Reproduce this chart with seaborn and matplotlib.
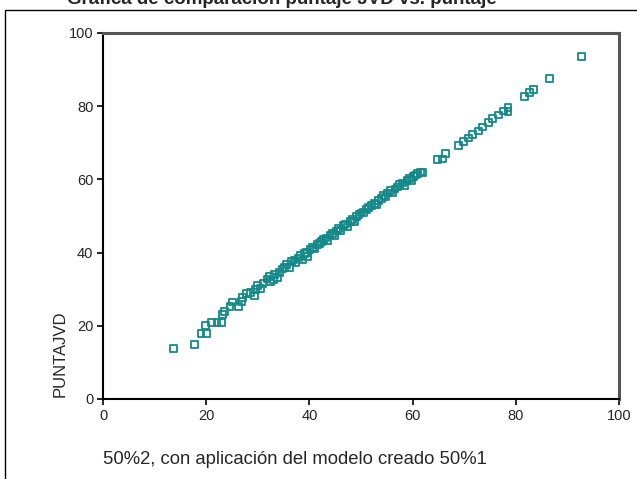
import matplotlib
matplotlib.use("Agg")
import matplotlib.pyplot as plt
import matplotlib.patches as mpatches
import seaborn as sns
import pandas as pd

# Puntaje calculado con el modelo (50%1) aplicado a la muestra 50%2
modelo_50_2 = [
    13.6, 17.7, 19.0, 20.0, 19.8, 21.1, 22.1, 22.9, 23.1, 23.6,
    24.6, 25.1, 26.2, 26.9, 27.0, 27.8, 28.6, 29.3, 29.5, 30.0,
    30.5, 31.0, 31.8, 32.2, 32.5, 33.0, 33.3, 33.8, 34.2, 34.8,
    35.2, 35.6, 36.1, 36.5, 37.0, 37.4, 37.9, 38.3, 38.6, 39.0,
    39.4, 39.7, 40.1, 40.6, 41.0, 41.5, 41.9, 42.3, 42.8, 43.2,
    43.5, 44.0, 44.4, 44.8, 45.3, 45.7, 46.1, 46.6, 47.0, 47.4,
    47.9, 48.3, 48.8, 49.2, 49.6, 50.0, 50.5, 51.0, 51.5, 52.0,
    52.6, 53.0, 53.4, 53.9, 54.3, 54.8, 55.2, 55.7, 56.1, 56.6,
    57.0, 57.5, 58.0, 58.4, 58.9, 59.4, 59.8, 60.2, 60.6, 61.0,
    61.5, 62.0, 64.8, 65.8, 66.3, 68.9, 69.8, 70.8, 71.6, 72.7,
    73.6, 74.7, 75.5, 76.6, 77.6, 78.5, 78.5, 81.7, 82.6, 83.5,
    86.6, 92.7,
]

# Puntaje observado (PUNTAJVD)
puntajvd = [
    13.9, 15.0, 18.0, 18.0, 20.0, 21.0, 21.0, 21.0, 23.0, 23.9,
    25.2, 26.5, 25.2, 26.6, 27.8, 28.8, 29.0, 28.2, 30.0, 31.0,
    30.2, 31.5, 32.8, 33.5, 32.0, 32.5, 34.0, 33.2, 34.5, 35.5,
    36.0, 36.8, 36.0, 37.5, 38.0, 37.2, 38.5, 39.2, 38.0, 39.8,
    40.0, 39.0, 40.8, 41.5, 41.0, 42.2, 42.5, 43.0, 43.6, 44.0,
    43.2, 44.8, 45.3, 44.6, 45.9, 46.5, 46.0, 47.3, 47.8, 47.0,
    48.4, 49.0, 48.5, 49.9, 50.3, 50.8, 51.0, 51.8, 52.3, 52.8,
    53.5, 53.2, 54.2, 54.8, 55.6, 55.2, 56.3, 56.9, 56.3, 57.4,
    57.9, 58.6, 59.0, 58.4, 59.7, 60.3, 59.8, 60.9, 61.2, 61.7,
    62.0, 61.8, 65.5, 65.6, 67.0, 69.3, 70.3, 71.3, 72.3, 73.2,
    74.3, 75.6, 76.6, 77.6, 78.7, 78.5, 79.6, 82.6, 83.7, 84.6,
    87.6, 93.6,
]

tick_values = [0, 20, 40, 60, 80, 100]

df = pd.DataFrame({"modelo": modelo_50_2, "PUNTAJVD": puntajvd})

sns.set_style("white")
plt.rcParams["font.family"] = ["Liberation Sans", "DejaVu Sans"]

fig = plt.figure(figsize=(6.37, 4.79), dpi=100)
ax = fig.add_axes([103 / 637, 1 - 399 / 479, 516 / 637, 366 / 479])

sns.scatterplot(
    data=df, x="modelo", y="PUNTAJVD", ax=ax,
    marker="s", s=24, facecolors="none", edgecolor="#13898a",
    linewidth=1.3, legend=False,
)

ax.set_xlim(0, 100)
ax.set_ylim(0, 100)
ax.set_xticks(tick_values)
ax.set_yticks(tick_values)
ax.tick_params(axis="both", labelsize=10.5, length=4, width=1.2,
               direction="out", color="black", pad=3)
ax.tick_params(left=True, bottom=True)

for side in ("left", "bottom"):
    ax.spines[side].set_color("black")
    ax.spines[side].set_linewidth(1.5)
for side in ("top", "right"):
    ax.spines[side].set_color("#555555")
    ax.spines[side].set_linewidth(2.2)

ax.set_xlabel("50%2, con aplicación del modelo creado 50%1",
              fontsize=13.3, loc="left")
ax.xaxis.set_label_coords(0.0, -0.143)
ax.xaxis.label.set_va("top")

ax.set_ylabel("PUNTAJVD", fontsize=12, loc="bottom")
ax.yaxis.set_label_coords(-0.083, 0.005)
ax.yaxis.label.set_va("center")

# Marco exterior del gráfico
frame = mpatches.Rectangle(
    (5 / 637, -0.05), 1.1, 1 - 10 / 479 + 0.05,
    transform=fig.transFigure, fill=False, edgecolor="black",
    linewidth=1.0, clip_on=False,
)
fig.patches.append(frame)

fig.text(67 / 637, 1 - 3.5 / 479,
         "Gráfica de comparación puntaje JVD vs. puntaje",
         fontsize=13.5, fontweight="bold", ha="left", va="baseline")

fig.savefig("out.png", dpi=100, facecolor="white")
